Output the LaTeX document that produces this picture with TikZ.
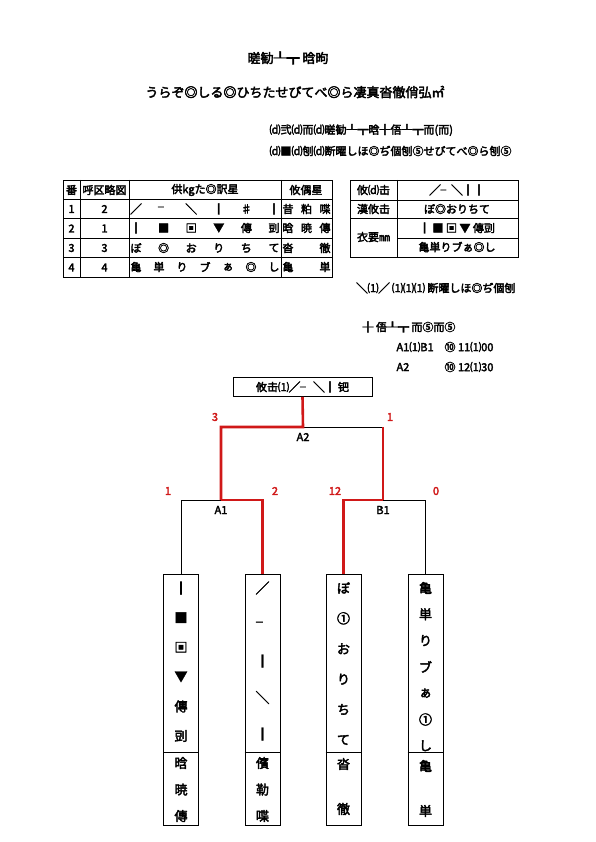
\documentclass[tikz,border=0pt]{standalone}
\usepackage{fontspec}
\setmainfont{Noto Sans CJK JP}[FakeBold=3]
\usetikzlibrary{positioning}
\definecolor{WinRed}{HTML}{D01818}

\begin{document}
\begin{tikzpicture}[x=1pt,y=-1pt,font=\fontsize{11}{12}\selectfont,
  win/.style={WinRed,line width=2.6pt},
  lose/.style={black,line width=0.8pt},
  score/.style={WinRed},
  grid/.style={line width=0.9pt},
  big/.style={font=\fontsize{13}{14}\selectfont},
  leaf/.style={draw,line width=0.8pt,minimum width=35pt,minimum height=251pt,inner sep=0pt,anchor=north}]
  \useasboundingbox (0,0) rectangle (595,842);
  % heading
  \node[big] (title) at (288,58) {暛勧┸┳ 晗昫};
  \node[big] (sub) at (295,92) {うらぞ◎しる◎ひちたせびてべ◎ら凄真沓徹俏弘㎡};
  \node[anchor=west] (info1) at (266,130) {⒟弐⒟而⒟暛勧┸┳晗╂俉┸┳而(而)};
  \node[anchor=west] (info2) at (266,151) {⒟■⒟刨⒟断曜しほ◎ぢ個刨⑤せびてべ◎ら刨⑤};
  % entry table
  \draw[grid] (63,180) rectangle (332,277);
  \foreach \y in {199,218,238,257} \draw[grid] (63,\y) -- (332,\y);
  \foreach \x in {80,129,281} \draw[grid] (\x,180) -- (\x,277);
  \node at (71.5,190) {番};
  \node[inner sep=0pt] at (104.5,190) {呼区略図};
  \node at (205,190) {供kgた◎訳星};
  \node at (306,190) {攸偶星};
  \foreach \n/\d [count=\r from 0] in {1/2,2/1,3/3,4/4} {
    \node at (71.5,{209+19.5*\r}) {\n};
    \node at (104.5,{209+19.5*\r}) {\d};
  }
  \foreach \c [count=\i from 0] in {╱,╴,╲,┃,♯,┃} \node at ({136+\i*27.6},209) {\c};
  \foreach \c [count=\i from 0] in {┃,■,▣,▼,傳,剅} \node at ({136+\i*27.6},228) {\c};
  \foreach \c [count=\i from 0] in {ぼ,◎,お,り,ち,て} \node at ({136+\i*27.6},248) {\c};
  \foreach \c [count=\i from 0] in {亀,単,り,ブ,ぁ,◎,し} \node at ({136+\i*23},267) {\c};
  \foreach \c [count=\i from 0] in {昔,粕,喋} \node at ({288+\i*18.5},209) {\c};
  \foreach \c [count=\i from 0] in {晗,暁,傳} \node at ({288+\i*18.5},228) {\c};
  \foreach \c [count=\i from 0] in {沓,徹} \node at ({288+\i*37},248) {\c};
  \foreach \c [count=\i from 0] in {亀,単} \node at ({288+\i*37},267) {\c};
  % result table
  \draw[grid] (350,180) rectangle (518,257);
  \draw[grid] (350,200) -- (518,200);
  \draw[grid] (350,218) -- (518,218);
  \draw[grid] (397,238) -- (518,238);
  \draw[grid] (397,180) -- (397,257);
  \node at (373.5,190) {攸⒟击};
  \node at (373.5,209) {漢攸击};
  \node at (373.5,237) {衣要㎜};
  \node at (457,190) {╱╴╲┃┃};
  \node at (457,209) {ぼ◎おりちて};
  \node at (457,228) {┃ ■ ▣ ▼ 傳剅};
  \node at (457,247) {亀単りブぁ◎し};
  \node[anchor=west] (note) at (353,288) {╲⑴╱ ⑴⑴⑴ 断曜しほ◎ぢ個刨};
  \node[anchor=west] (sched) at (359,327) {╂ 俉┸┳ 而⑤而⑤};
  \node[anchor=west] (t1) at (393,347) {A1⑴B1};
  \node[anchor=west] (t1b) at (441,347) {⑩ 11⑴00};
  \node[anchor=west] (t2) at (393,367) {A2};
  \node[anchor=west] (t2b) at (441,367) {⑩ 12⑴30};
  % bracket
  \node[draw,line width=0.8pt,minimum width=139pt,minimum height=19pt,inner sep=0pt] (final) at (302.5,387) {攸击⑴╱╴ ╲┃ 钯};
  \coordinate (a2) at (303,427);
  \coordinate (a1) at (221,500);
  \coordinate (b1) at (383,500);
  \node[leaf] (p1) at (181,574) {};
  \node[leaf] (p2) at (262.5,574) {};
  \node[leaf] (p3) at (343.5,574) {};
  \node[leaf] (p4) at (425.5,574) {};
  \foreach \p in {p1,p2,p3,p4} \draw[line width=0.8pt] (\p.west |- 0,752) -- (\p.east |- 0,752);
  \draw[lose] (a2) -- (a2 -| b1);
  \draw[lose] (a1) -- (a1 -| p1.north) -- (p1.north);
  \draw[lose] (b1) -- (b1 -| p4.north) -- (p4.north);
  \draw[win] (final.south) -- (a2) -- (a2 -| a1) -- (a1);
  \draw[win] (a2 -| b1) -- (b1);
  \draw[win] (a1) -- (a1 -| p2.north) -- (p2.north);
  \draw[win] (b1) -- (b1 -| p3.north) -- (p3.north);
  \node at (303,437) {A2};
  \node at (221,510) {A1};
  \node at (383,510) {B1};
  \node[score] at (215,417) {3};
  \node[score] at (390,417) {1};
  \node[score] at (168,491) {1};
  \node[score] at (275,491) {2};
  \node[score] at (335,491) {12};
  \node[score] at (436,491) {0};
  % names, written top to bottom
  \begin{scope}[every node/.style={big}]
  \foreach \c [count=\i from 0] in {┃,■,▣,▼,傳,剅} \node at ({181},{588+\i*29.6}) {\c};
  \foreach \c [count=\i from 0] in {╱,╴,┃,╲,┃} \node at ({262.5},{588+\i*36.5}) {\c};
  \foreach \c [count=\i from 0] in {ぼ,①,お,り,ち,て} \node at ({343.5},{588+\i*30.4}) {\c};
  \foreach \c [count=\i from 0] in {亀,単,り,ブ,ぁ,①,し} \node at ({425.5},{588+\i*26.3}) {\c};
  \foreach \c [count=\i from 0] in {晗,暁,傳} \node at ({181},{763+\i*26.5}) {\c};
  \foreach \c [count=\i from 0] in {儐,勒,喋} \node at ({262.5},{763+\i*26.5}) {\c};
  \foreach \c [count=\i from 0] in {沓,徹} \node at ({343.5},{764+\i*45}) {\c};
  \foreach \c [count=\i from 0] in {亀,単} \node at ({425.5},{766+\i*45}) {\c};
  \end{scope}
\end{tikzpicture}
\end{document}
